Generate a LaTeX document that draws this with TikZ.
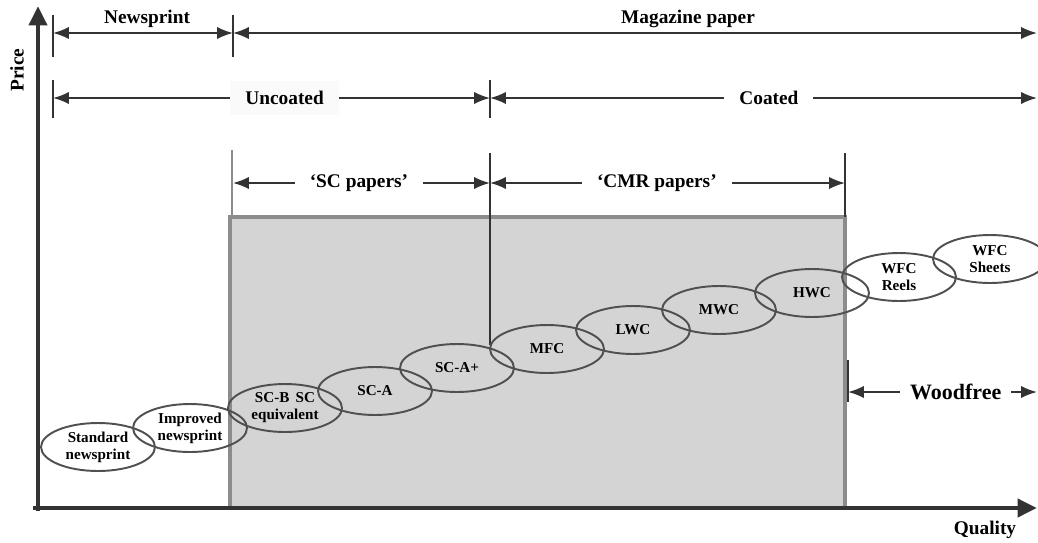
\documentclass[tikz,border=0pt]{standalone}
\usepackage{fontspec}
\setmainfont{Liberation Serif}
\usetikzlibrary{arrows.meta,shapes.geometric}
\definecolor{axisgray}{HTML}{333333}
\definecolor{boxedge}{HTML}{8C8C8C}
\definecolor{boxfill}{HTML}{D4D4D4}
\definecolor{ringgray}{HTML}{505050}
\tikzset{
  axis/.style={line width=2.8pt, draw=axisgray, -{Triangle[length=11pt,width=10pt]}},
  span/.style={line width=1.1pt, draw=axisgray, {Latex[length=9pt,width=7pt]}-{Latex[length=9pt,width=7pt]}},
  tick/.style={line width=0.8pt, draw=axisgray},
  band/.style={fill=white, inner xsep=0.3cm, inner ysep=1pt, font=\fontsize{11}{13}\selectfont\bfseries},
  head/.style={font=\fontsize{11}{13}\selectfont\bfseries},
  paper/.style={ellipse, draw=ringgray, line width=1.1pt, minimum width=2.28cm, minimum height=0.96cm,
    inner sep=0pt, align=center, font=\fontsize{8.6}{9.6}\selectfont\bfseries},
}
\begin{document}
\begin{tikzpicture}[x=0.02cm, y=-0.02cm]
  \useasboundingbox (0,0) rectangle (1038,542);
  % grey block of magazine papers
  \fill[boxfill] (230,217) rectangle (845,508);
  \draw[boxedge, line width=2.3pt] (230,217) rectangle (845,508);
  \draw[boxedge, line width=1.6pt] (232,150) -- (232,217);

  \coordinate (O) at (38,508);
  \coordinate (ytop) at (38,6);
  \coordinate (xend) at (1037,508);

  % row 1
  \coordinate (n1) at (53,33);
  \coordinate (n2) at (233,33);
  \coordinate (n3) at (1037,33);
  \draw[tick] (53,15) -- (53,57) (233,15) -- (233,57);
  \draw[span] (n1) -- (n2);
  \draw[span] (n2) -- (n3);
  \node[head] (newsprint) at (147,19) {Newsprint};
  \node[head] (magazine) at (688,19) {Magazine paper};

  % row 2
  \coordinate (c1) at (53,98);
  \coordinate (c2) at (490,98);
  \coordinate (c3) at (1037,98);
  \draw[tick] (53,80) -- (53,118) (490,80) -- (490,118);
  \draw[span] (c1) -- node[pos=.53, band, fill=black!2, inner ysep=6pt] (uncoated) {Uncoated} (c2);
  \draw[span] (c2) -- node[pos=.51, band] (coated) {Coated} (c3);

  % row 3
  \coordinate (s1) at (233,183);
  \coordinate (s2) at (490,183);
  \coordinate (s3) at (845,183);
  \draw[tick] (490,153) -- (490,345) (845,153) -- (845,217);
  \draw[span] (s1) -- node[pos=.49, band] (scpapers) {`SC papers'} (s2);
  \draw[span] (s2) -- node[pos=.47, band] (cmrpapers) {`CMR papers'} (s3);

  % woodfree
  \coordinate (w1) at (848,392);
  \coordinate (w2) at (1037,392);
  \draw[tick] (848,360) -- (848,402);
  \draw[span] (w1) -- node[pos=.57, band, font=\fontsize{12.5}{14}\selectfont\bfseries, inner xsep=0.2cm] (woodfree) {Woodfree} (w2);

  % grades
  \node[paper] (std) at (98,447) {Standard\\newsprint};
  \node[paper] (imp) at (190,428) {Improved\\newsprint};
  \node[paper] (scb) at (285,408) {SC-B\, SC\\equivalent};
  \node[paper] (sca) at (375,391) {SC-A};
  \node[paper] (scap) at (457,368) {SC-A+};
  \node[paper] (mfc) at (547,349) {MFC};
  \node[paper] (lwc) at (633,330) {LWC};
  \node[paper] (mwc) at (719,310) {MWC};
  \node[paper] (hwc) at (812,293) {HWC};
  \node[paper] (wfcr) at (899,277) {WFC\\Reels};
  \node[paper] (wfcs) at (990,259) {WFC\\Sheets};

  % axes
  \draw[axis] (33,508) -- (xend);
  \draw[axis] (38,511) -- (ytop);
  \node[head, rotate=90] (price) at (17,70) {Price};
  \node[head] (quality) at (985,530) {Quality};
\end{tikzpicture}
\end{document}
